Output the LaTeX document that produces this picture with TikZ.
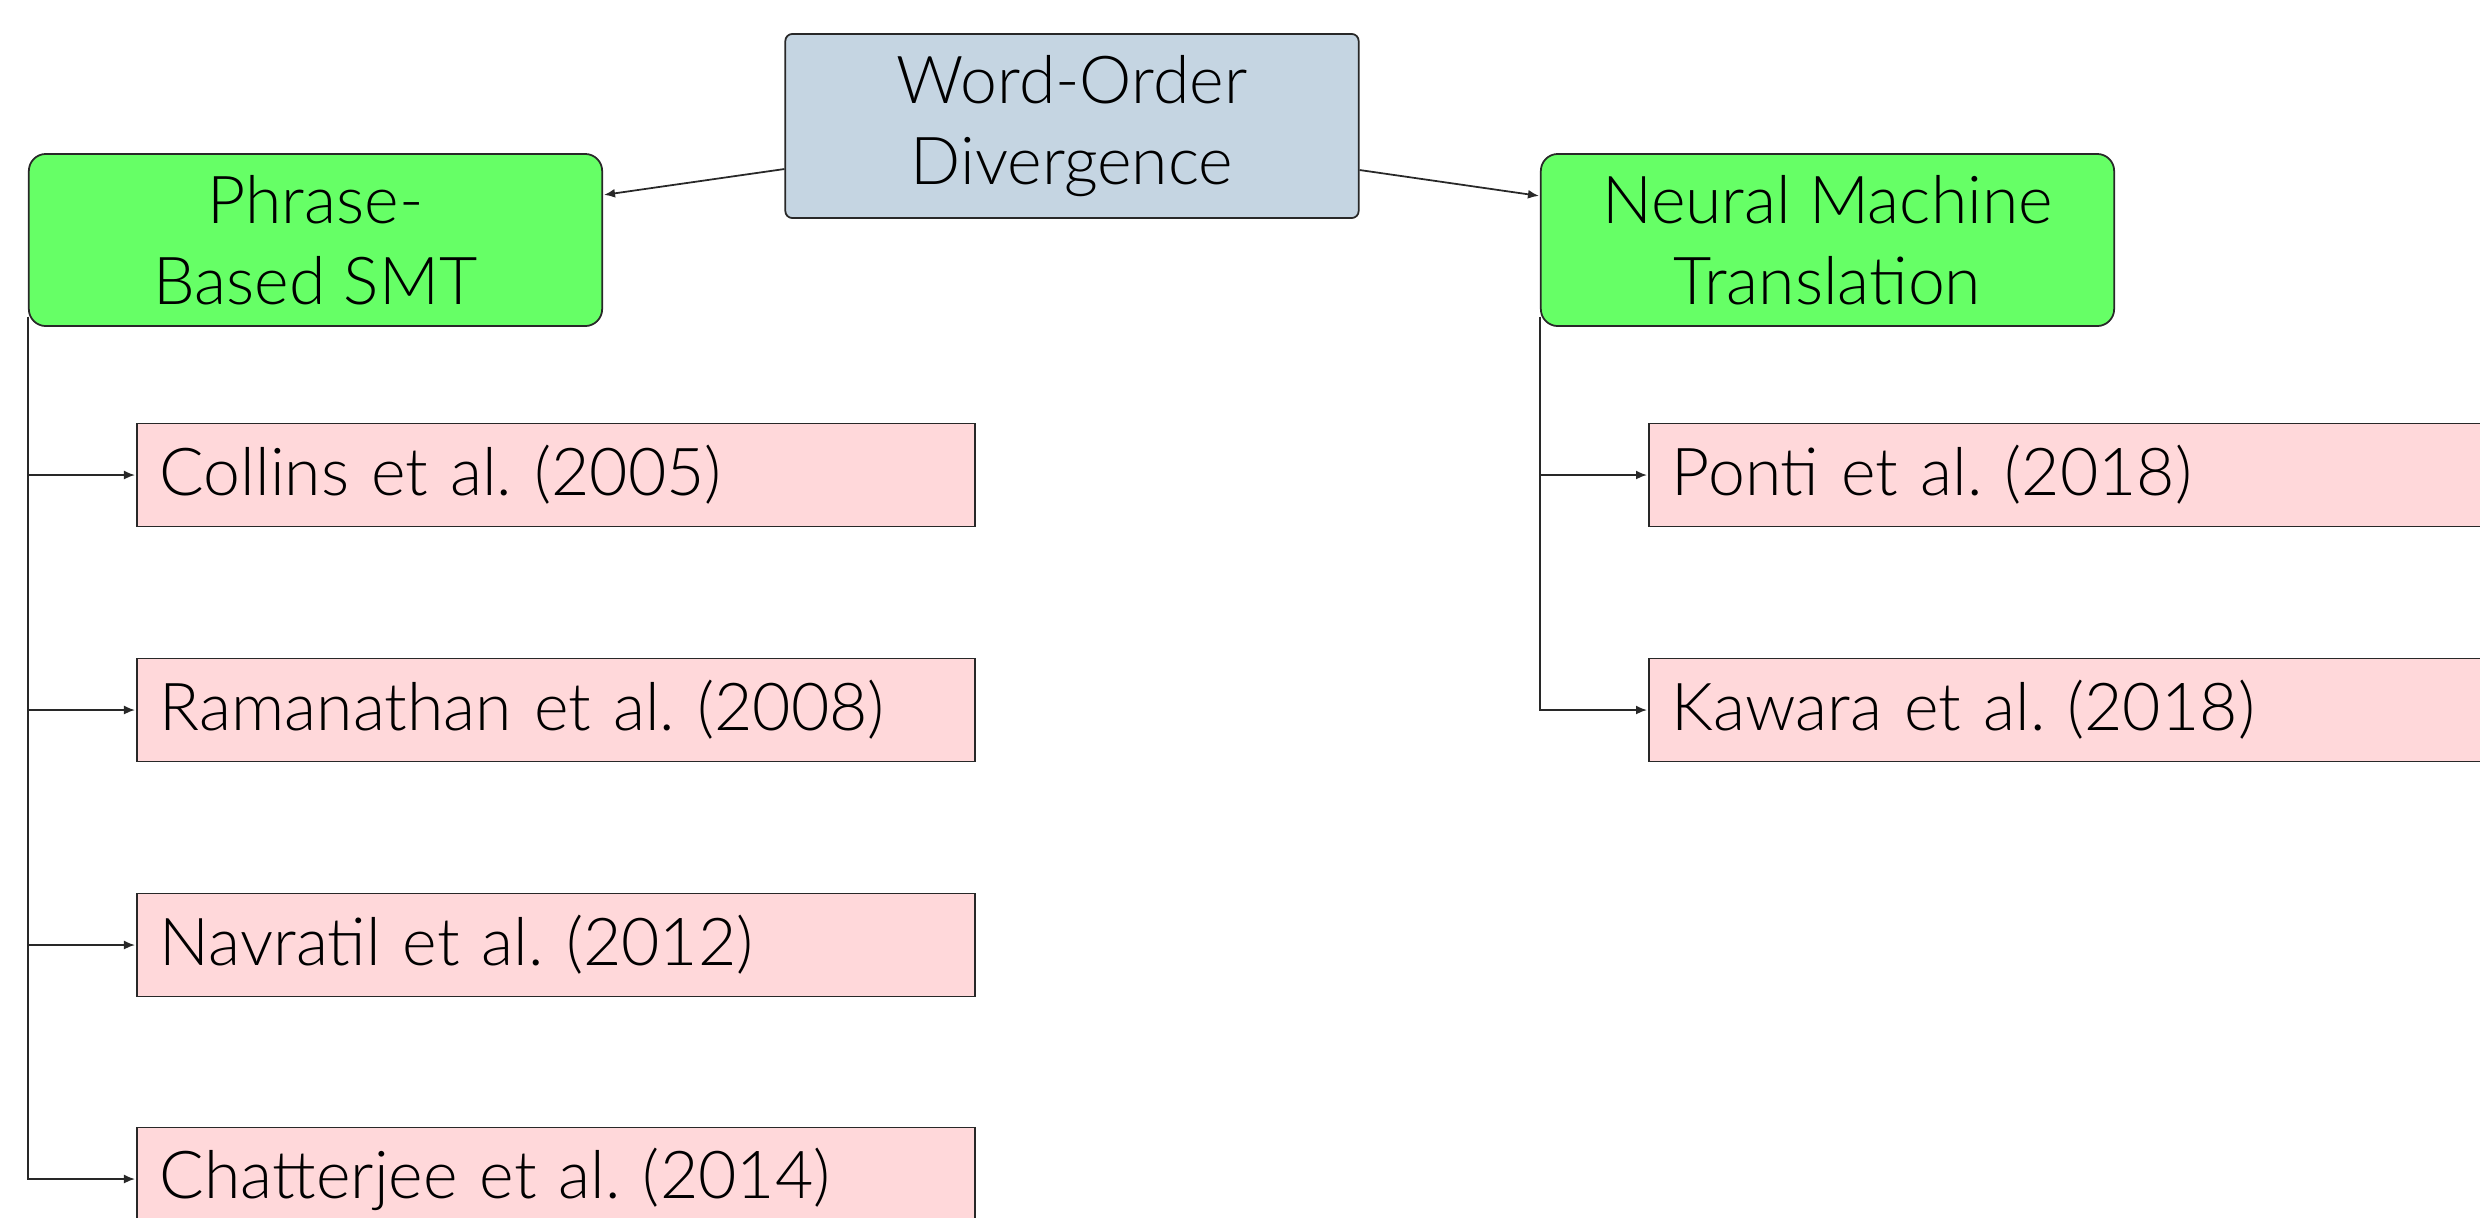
\documentclass[tikz,border=0pt]{standalone}
\usepackage{fontspec}
\setmainfont{Lato Light}
\frenchspacing
\usetikzlibrary{arrows.meta,calc}
\definecolor{rootfill}{RGB}{197,213,226}
\definecolor{catfill}{RGB}{102,255,102}
\definecolor{paperfill}{RGB}{255,216,218}
\definecolor{edgegray}{RGB}{40,40,40}
\tikzset{
  basebox/.style={draw=edgegray, line width=0.5pt, inner sep=0pt, font=\fontsize{18.8}{22.9}\selectfont},
  rootbox/.style={basebox, fill=rootfill, rounded corners=0.07cm, minimum width=5.73cm, minimum height=1.84cm, align=center},
  catbox/.style={basebox, fill=catfill, rounded corners=0.17cm, minimum width=5.73cm, minimum height=1.72cm, align=center},
  paperbox/.style={basebox, fill=paperfill, anchor=west, minimum width=8.38cm, minimum height=1.03cm, text width=7.92cm, align=left},
  link/.style={draw=edgegray, line width=0.5pt, -{Latex[length=0.11cm,width=0.09cm]}, shorten >=0.01cm},
}
\begin{document}
\begin{tikzpicture}[x=0.01cm,y=-0.01cm]
  \useasboundingbox (0,0) rectangle (2480,1217);
  \clip (0,0) rectangle (2480,1217);

  % root and the two approaches
  \node[rootbox] (wo) at (1072,126) {Word-Order\\Divergence};
  \node[catbox] (pb) at (315.5,240) {Phrase-\\Based SMT};
  \node[catbox] (nmt) at (1827.5,240) {Neural Machine\\Translation};

  % phrase-based SMT papers
  \node[paperbox] (collins) at (136,475) {Collins et al. (2005)};
  \node[paperbox] (raman) at (136,710) {Ramanathan et al. (2008)};
  \node[paperbox] (navr) at (136,945) {Navratil et al. (2012)};
  \node[paperbox] (chat) at (136,1179) {Chatterjee et al. (2014)};

  % NMT papers
  \node[paperbox] (ponti) at (1648,475) {Ponti et al. (2018)};
  \node[paperbox] (kawara) at (1648,710) {Kawara et al. (2018)};

  % root to approaches
  \draw[link] ($(wo.west)+(0,43)$) -- ($(pb.east)+(0,-45)$);
  \draw[link] ($(wo.east)+(0,44)$) -- ($(nmt.west)+(0,-44)$);

  % tree lines down the left edge of each approach box
  \coordinate (pbtrunk) at ($(pb.south west)+(0,-10)$);
  \coordinate (nmttrunk) at ($(nmt.south west)+(0,-10)$);
  \foreach \p in {collins,raman,navr,chat}
    \draw[link] (pbtrunk) |- (\p.west);
  \foreach \p in {ponti,kawara}
    \draw[link] (nmttrunk) |- (\p.west);
\end{tikzpicture}
\end{document}
